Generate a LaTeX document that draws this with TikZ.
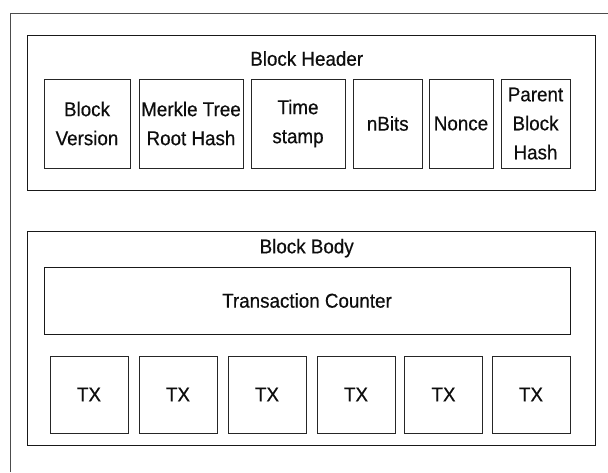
\documentclass[tikz,border=0pt]{standalone}
\usepackage{fontspec}
\setmainfont{Liberation Sans}[FakeStretch=0.94,FakeBold=0.5]
\begin{document}
\begin{tikzpicture}[x=1pt,y=-1pt,
  every node/.style={font=\fontsize{20}{29}\selectfont, text=black!95},
  framebox/.style={draw=black!70, line width=1pt},
  group/.style={draw=black!90, line width=1pt, inner sep=0pt, anchor=center},
  field/.style={draw=black!85, line width=1pt, inner sep=0pt, align=center,
                minimum height=89pt},
  txbox/.style={draw=black!85, line width=1pt, inner sep=0pt,
                minimum width=78pt, minimum height=77pt},
  title/.style={anchor=base, inner sep=0pt}]
\useasboundingbox (0,0) rectangle (608,472);

% enclosing frame, open to the right and bottom
\coordinate (fbl) at (10,472);
\coordinate (ftl) at (10,13);
\coordinate (ftr) at (608,13);
\draw[framebox] (fbl) -- (ftl) -- (ftr);

% block header
\node[group, minimum width=568pt, minimum height=155pt] (header) at (311,112.5) {};
\node[title] (headerlbl) at (306.7,65.7) {Block Header};
\node[field, minimum width=86pt]   (ver)    at (87,123.5)    {Block\\Version};
\node[field, minimum width=104pt]  (merkle) at (191,123.5)   {Merkle Tree\\Root Hash};
\node[field, minimum width=94pt]   (time)   at (298,123.5)   {Time\\stamp};
\node[field, minimum width=68.5pt] (nbits)  at (387.75,123.5){nBits};
\node[field, minimum width=64pt]   (nonce)  at (461,123.5)   {Nonce};
\node[field, minimum width=69pt]   (parent) at (535.5,123.5) {Parent\\Block\\Hash};

% block body
\node[group, minimum width=568pt, minimum height=214pt] (body) at (311,338) {};
\node[title] (bodylbl) at (306.7,253.3) {Block Body};
\node[group, minimum width=526pt, minimum height=67pt] (counter) at (307,300.5) {Transaction Counter};
\foreach \cx [count=\i] in {89,178,267,356,443.5,531}
  \node[txbox] (tx\i) at (\cx,394.5) {TX};
\end{tikzpicture}
\end{document}
